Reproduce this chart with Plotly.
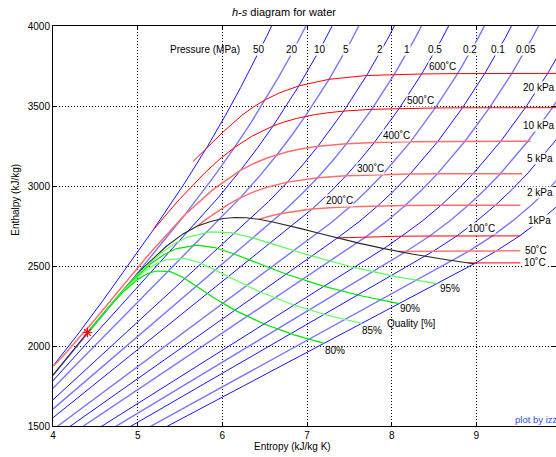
import plotly.graph_objects as go

# ---------------- data (s in kJ/kg K, h in kJ/kg) ----------------
# isobars
isobar_names = ["50 MPa", "20 MPa", "10 MPa", "5 MPa", "2 MPa", "1 MPa", "0.5 MPa", "0.2 MPa",
                "0.1 MPa", "0.05 MPa", "20 kPa", "10 kPa", "5 kPa", "2 kPa", "1 kPa"]
isobar_s = [
    [3.7642, 4.0029, 4.2746, 4.5896, 5.1762, 5.5563, 5.8245, 6.0373, 6.2179, 6.5225, 6.7819],
    [3.80, 4.0139, 4.9269, 5.5525, 5.9043, 6.1446, 6.3390, 6.5075, 6.6593, 6.7991, 7.0531],
    [3.3603, 5.6159, 5.7596, 5.9460, 6.2141, 6.4219, 6.5995, 6.7585, 6.9045, 7.1693, 7.4085],
    [2.9207, 5.9737, 6.2111, 6.4516, 6.6483, 6.8210, 6.9781, 7.2605, 7.5136, 7.7458],
    [2.4467, 6.3390, 6.5475, 6.7684, 6.9583, 7.1292, 7.4337, 7.7043, 7.9509, 8.1791],
    [2.1381, 6.5850, 6.6956, 6.9265, 7.1246, 7.3029, 7.4670, 7.7642, 8.0311, 8.2755, 8.5024],
    [1.8604, 6.8207, 7.0610, 7.2725, 7.4614, 7.6346, 7.7956, 8.0893, 8.3544, 8.5978, 8.8240],
    [1.5302, 7.1270, 7.2810, 7.5081, 7.7100, 7.8941, 8.2236, 8.5153, 8.7793, 9.0221, 9.2479],
    [1.3028, 7.3589, 7.6148, 7.8356, 8.0346, 8.2172, 8.5452, 8.8362, 9.0999, 9.3424, 9.5682],
    [1.0912, 7.5931, 7.6953, 7.9413, 8.1592, 8.3568, 8.5387, 8.8659, 9.1566, 9.4201, 9.6626, 9.8883],
    [0.8320, 7.9073, 8.1172, 8.3642, 8.5821, 8.7797, 8.9616, 9.2888, 9.5795, 9.8430, 10.0855, 10.3112],
    [0.6492, 8.1488, 8.1741, 8.4489, 8.6892, 8.9049, 9.1002, 9.2827, 9.6094, 9.8998, 10.1631],
    [0.4762, 8.3938, 8.4940, 8.7688, 9.0091, 9.2248, 9.4201, 9.6026, 9.9293, 10.2200],
    [0.2607, 8.7229, 8.9170, 9.1917, 9.4320, 9.6477, 9.8430, 10.0255],
    [0.1059, 8.9749, 9.2368, 9.5116, 9.7519, 9.9676, 10.1630],
]
isobar_h = [
    [1716.6, 1874.6, 2060.0, 2284.0, 2720.1, 3019.5, 3247.6, 3441.8, 3616.8, 3933.6, 4224.4],
    [1705.0, 1826.6, 2409.7, 2816.9, 3061.7, 3241.2, 3396.2, 3539.0, 3675.3, 3807.8, 4067.5],
    [1408.1, 2725.5, 2810.3, 2924.0, 3097.5, 3242.4, 3375.1, 3502.0, 3625.8, 3870.0, 4114.5],
    [1154.5, 2794.2, 2925.7, 3069.3, 3196.7, 3317.2, 3434.7, 3666.9, 3900.3, 4137.7],
    [908.5, 2798.3, 2903.3, 3024.2, 3137.7, 3248.4, 3468.3, 3690.7, 3917.5, 4150.2],
    [762.5, 2777.1, 2828.3, 2943.1, 3051.6, 3158.2, 3264.5, 3479.1, 3697.4, 3922.3, 4154.1],
    [640.1, 2748.1, 2855.8, 2961.0, 3064.6, 3168.1, 3272.4, 3484.5, 3700.1, 3923.4, 4155.7],
    [504.7, 2706.3, 2769.1, 2870.7, 2971.2, 3072.1, 3277.0, 3487.7, 3702.5, 3925.4, 4157.5],
    [417.5, 2674.9, 2776.6, 2875.5, 2974.5, 3074.5, 3278.6, 3488.7, 3703.3, 3926.1, 4158.1],
    [340.5, 2645.2, 2682.4, 2780.2, 2877.8, 2976.2, 3075.8, 3279.5, 3489.3, 3703.6, 3926.4, 4158.4],
    [251.4, 2608.9, 2686.2, 2782.0, 2879.0, 2977.0, 3076.5, 3279.8, 3489.5, 3703.7, 3926.5, 4158.5],
    [191.8, 2583.9, 2592.0, 2687.4, 2783.1, 2879.6, 2977.1, 3076.7, 3280.0, 3489.7, 3704.0],
    [137.75, 2560.7, 2593.4, 2687.5, 2783.2, 2879.7, 2977.2, 3076.8, 3280.0, 3489.8],
    [73.4, 2532.9, 2594.0, 2688.0, 2783.3, 2879.8, 2977.2, 3076.8],
    [29.3, 2513.7, 2594.5, 2688.1, 2783.3, 2879.8, 2977.2],
]

# isotherms
isotherm_names = ["600°C", "500°C", "400°C", "300°C", "200°C", "100°C", "50°C", "10°C"]
isotherm_s = [
    [5.655, 6.0135, 6.2358, 6.3602, 6.5075, 6.6796, 6.9045, 7.2605, 7.7043, 8.0311, 8.3544,
     8.7793, 9.0999, 9.4201, 9.8430, 10.1631],
    [5.1762, 5.4700, 5.7956, 5.9642, 6.1446, 6.3480, 6.5995, 6.7266, 6.8800, 6.9781, 7.0919,
     7.2356, 7.4337, 7.7642, 8.0893, 8.5153, 8.8362, 9.1566, 9.5795, 9.8998, 10.2200],
    [4.0029, 4.1141, 4.4758, 5.1444, 5.5525, 5.8840, 6.2141, 6.3658, 6.5432, 6.6483, 6.7714,
     6.9235, 7.1292, 7.4670, 7.7956, 8.2236, 8.5452, 8.8659, 9.2888, 9.6400],
    [5.7059, 5.7956, 6.0703, 6.2111, 6.3639, 6.5412, 6.7684, 7.1246, 7.4614, 7.8941, 8.2172,
     8.5387, 8.9616, 9.2827, 9.5400],
    [6.4302, 6.4975, 6.5909, 6.6956, 6.8177, 6.9683, 7.0610, 7.1723, 7.3132, 7.5081, 7.8356,
     8.1592, 8.5821, 8.9049, 9.2248, 9.5200],
    [7.3541, 7.6953, 8.1172, 8.4489, 8.7688, 9.1917, 9.5200],
    [8.0748, 8.1741, 8.4940, 8.9170, 9.2368, 9.5200],
    [8.8999, 9.5200],
]
isotherm_h = [
    [3154.0, 3340.0, 3444.0, 3491.4, 3539.0, 3583.1, 3625.8, 3666.9, 3690.7, 3697.4, 3700.1,
     3702.5, 3703.3, 3703.6, 3703.7, 3704.0],
    [2720.1, 2903.3, 3083.3, 3165.9, 3241.2, 3310.8, 3375.1, 3399.5, 3422.8, 3434.7, 3446.0,
     3457.0, 3468.3, 3479.1, 3484.5, 3487.7, 3488.7, 3489.3, 3489.5, 3489.7, 3489.8],
    [1874.6, 1934.1, 2152.8, 2580.2, 2816.9, 2975.7, 3097.5, 3139.4, 3178.3, 3196.7, 3214.5,
     3231.7, 3248.4, 3264.5, 3272.4, 3277.0, 3278.6, 3279.5, 3279.8, 3280.0],
    [2749.6, 2786.5, 2885.6, 2925.7, 2961.7, 2994.3, 3024.2, 3051.6, 3064.6, 3072.1, 3074.5,
     3075.8, 3076.5, 3076.7, 3076.8],
    [2792.0, 2803.0, 2815.9, 2828.3, 2839.8, 2850.6, 2855.8, 2860.9, 2865.9, 2870.7, 2875.5,
     2877.8, 2879.2, 2879.6, 2879.7, 2879.8],
    [2675.6, 2682.4, 2686.2, 2687.4, 2687.5, 2688.0, 2688.1],
    [2591.3, 2592.0, 2593.4, 2594.0, 2594.5, 2594.6],
    [2519.2, 2519.5],
]

# saturation dome
dome_s = [4.0000, 4.1112, 4.4070, 4.8012, 5.0536, 5.3356, 5.5362, 5.7059, 5.8730, 6.0114, 6.1474,
          6.2861, 6.4302, 6.5828, 6.7476, 6.9284, 7.1292, 7.3541, 7.6111, 7.9081, 8.2556,
          8.6661, 8.9749]
dome_h = [1817.3, 1891.7, 2084.3, 2333.5, 2481.6, 2622.0, 2700.6, 2749.6, 2779.9, 2796.6, 2803.0,
          2801.1, 2792.0, 2776.2, 2757.0, 2733.5, 2706.0, 2675.6, 2643.0, 2608.8, 2573.5,
          2537.4, 2513.7]

# lines of constant quality
quality_names = ["95%", "90%", "85%", "80%"]
quality_s = [
    [4.4070, 4.7667, 4.9968, 5.2518, 5.4319, 5.5834, 5.8551, 6.0977, 6.3606, 6.6689, 7.0518, 7.5543, 8.0512, 8.5321],
    [4.4070, 4.7322, 4.9399, 5.1681, 5.3275, 5.4608, 5.6988, 5.9093, 6.1384, 6.4095, 6.7494, 7.2004, 7.6505, 8.0886],
    [4.4070, 4.6977, 4.8831, 5.0843, 5.2232, 5.3383, 5.5424, 5.7208, 5.9163, 6.1500, 6.4471, 6.8466, 7.2497, 7.6451],
    [4.4070, 4.6632, 4.8262, 5.0005, 5.1188, 5.2158, 5.3861, 5.5324, 5.6941, 5.8906, 6.1447, 6.4927, 6.8490, 7.2017],
]
quality_h = [
    [2084.3, 2311.4, 2445.6, 2570.6, 2638.6, 2679.4, 2713.5, 2708.2, 2675.6, 2626.3, 2562.8, 2490.9, 2434.1, 2389.5],
    [2084.3, 2289.3, 2409.6, 2519.3, 2576.7, 2609.1, 2630.4, 2615.4, 2574.9, 2519.1, 2450.0, 2373.1, 2312.6, 2265.3],
    [2084.3, 2267.2, 2373.6, 2467.9, 2514.7, 2538.9, 2547.4, 2522.5, 2474.2, 2411.9, 2337.2, 2255.2, 2191.1, 2141.0],
    [2084.3, 2245.1, 2337.6, 2416.5, 2452.7, 2468.6, 2464.3, 2429.6, 2373.6, 2304.7, 2224.3, 2137.3, 2069.6, 2016.8],
]

critical_s = [4.407]
critical_h = [2084.3]

# pressure labels (MPa across the top, kPa at the right)
mpa_labels = ["50", "20", "10", "5", "2", "1", "0.5", "0.2", "0.1", "0.05"]
kpa_labels = ["20 kPa", "10 kPa", "5 kPa", "2 kPa", "1kPa"]
x_ticks = [4, 5, 6, 7, 8, 9]
y_ticks = [1500, 2000, 2500, 3000, 3500, 4000]

# ---------------- figure ----------------
FONT = "Liberation Sans, Arial, sans-serif"
fig = go.Figure()

blue_cols = ["rgb(20,20,255)", "rgb(120,120,255)"]
for i, (s, h) in enumerate(zip(isobar_s, isobar_h)):
    fig.add_trace(go.Scatter(x=s, y=h, mode="lines", name=isobar_names[i],
                             line=dict(color=blue_cols[i % 2], width=1.0 if i % 2 == 0 else 1.4),
                             hoverinfo="skip", showlegend=False))

red_cols = ["rgb(255,0,0)", "rgb(255,0,0)", "rgb(255,110,110)", "rgb(255,110,110)",
            "rgb(255,110,110)", "rgb(255,0,0)", "rgb(255,120,120)", "rgb(255,0,0)"]
for i, (s, h) in enumerate(zip(isotherm_s, isotherm_h)):
    fig.add_trace(go.Scatter(x=s, y=h, mode="lines", name=isotherm_names[i],
                             line=dict(color=red_cols[i], width=1.0 if red_cols[i] == "rgb(255,0,0)" else 1.5),
                             hoverinfo="skip", showlegend=False))

fig.add_trace(go.Scatter(x=dome_s, y=dome_h, mode="lines", line=dict(color="rgb(40,40,40)", width=1.1),
                         hoverinfo="skip", showlegend=False))

green_cols = ["rgb(90,255,90)", "rgb(0,230,0)", "rgb(110,255,110)", "rgb(0,230,0)"]
for i, (s, h) in enumerate(zip(quality_s, quality_h)):
    fig.add_trace(go.Scatter(x=s, y=h, mode="lines", name=quality_names[i],
                             line=dict(color=green_cols[i], width=1.2),
                             hoverinfo="skip", showlegend=False))

fig.add_trace(go.Scatter(x=critical_s, y=critical_h, mode="markers",
                         marker=dict(symbol="asterisk-open", size=8, color="red",
                                     line=dict(color="red", width=1.2)),
                         hoverinfo="skip", showlegend=False))

ann = []
def label(x, y, text, bg=True, color="black", xanchor="center", xref="x", yref="y", size=10):
    ann.append(dict(x=x, y=y, xref=xref, yref=yref, text=text, showarrow=False,
                    xanchor=xanchor, yanchor="middle",
                    font=dict(family=FONT, size=size, color=color),
                    bgcolor="white" if bg else "rgba(0,0,0,0)", borderpad=0))

# top pressure labels
mpa_pos = [6.438, 6.828, 7.158, 7.465, 7.867, 8.186, 8.517, 8.930, 9.261, 9.592]
for t, xs in zip(mpa_labels, mpa_pos):
    label(xs, 3856, t)
label(5.80, 3856, "Pressure (MPa)", bg=False)
kpa_pos = [(9.735, 3613), (9.735, 3376), (9.750, 3170), (9.750, 2958), (9.750, 2783)]
for t, (xs, ys) in zip(kpa_labels, kpa_pos):
    label(xs, ys, t, size=10)
iso_pos = [(8.600, 3750), (8.339, 3532), (8.056, 3314), (7.749, 3108), (7.383, 2908),
           (9.060, 2733), (9.700, 2596), (9.690, 2521)]
for t, (xs, ys) in zip(isotherm_names, iso_pos):
    label(xs, ys, t.replace("°", "˚"))
q_pos = [(8.693, 2359), (8.221, 2234), (7.772, 2097), (7.335, 1972)]
for t, (xs, ys) in zip(quality_names, q_pos):
    label(xs, ys, t, bg=False)
label(8.233, 2140, "Quality [%]", bg=False)
label(0.9165, 0.016, "plot by izz", bg=False, color="rgb(40,80,255)", xanchor="left",
      xref="paper", yref="paper", size=9.5)

# titles
label(0.46, 1.035, "<i>h-s</i> diagram for water", bg=False, xref="paper", yref="paper", size=11)
label(0.477, -0.05, "Entropy (kJ/kg K)", bg=False, xref="paper", yref="paper")
ann.append(dict(x=-0.0735, y=0.566, xref="paper", yref="paper", text="Enthalpy (kJ/kg)",
                showarrow=False, textangle=-90, xanchor="center", yanchor="middle",
                font=dict(family=FONT, size=10, color="black")))

axis_common = dict(showgrid=True, gridcolor="black", griddash="1px,2px", gridwidth=1,
                   showline=True, linecolor="black", linewidth=1, ticks="inside", ticklen=4,
                   tickcolor="black", zeroline=False,
                   tickfont=dict(family=FONT, size=10, color="black"))
fig.update_layout(
    width=556, height=457,
    margin=dict(l=53, r=0, t=26, b=31, autoexpand=False),
    paper_bgcolor="white", plot_bgcolor="white",
    xaxis=dict(range=[4, 9.941], tickvals=x_ticks, mirror="ticks", **axis_common),
    yaxis=dict(range=[1500, 4000], tickvals=y_ticks, mirror="ticks", **axis_common),
    annotations=ann,
    showlegend=False,
)
# remove the page's default body margin so the figure fills the window exactly
fig.write_html("out.html", config={"displayModeBar": False},
               post_script="document.body.style.margin='0';document.body.style.overflow='hidden';")
